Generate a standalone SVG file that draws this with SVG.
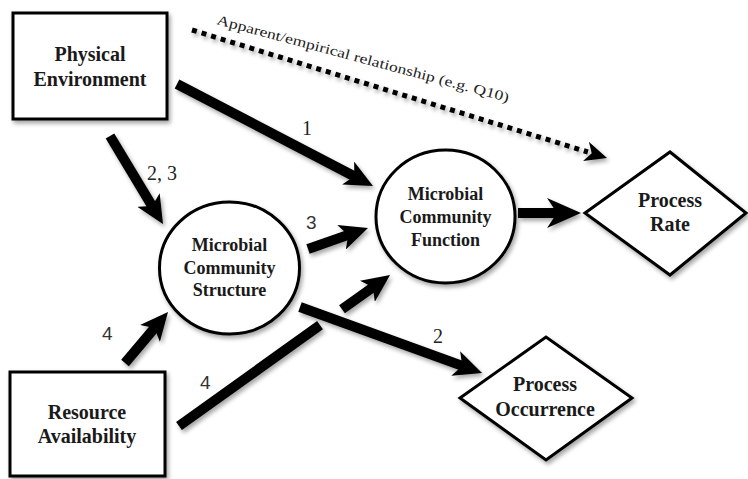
<svg xmlns="http://www.w3.org/2000/svg" width="748" height="479" viewBox="0 0 748 479">
<style>
.node{fill:#fff;stroke:#000;stroke-width:3}
.ttl{font-weight:bold;fill:#1a1a1a;text-anchor:middle}
.lbl{fill:#222;font-size:20px}
.lbs{fill:#333;font-size:19px}
.arr{stroke:#000;stroke-width:10;fill:none}
</style>
<defs>
<filter id="sh" x="-20%" y="-20%" width="140%" height="140%">
<feDropShadow dx="2" dy="3" stdDeviation="2" flood-color="#000" flood-opacity="0.35"/>
</filter>
<marker id="ah" viewBox="0 0 28 26" refX="10" refY="13" markerWidth="28" markerHeight="26" markerUnits="userSpaceOnUse" orient="auto">
<path d="M0,0 L28,13 L0,26 L7,13 Z" fill="#000"/>
</marker>
<marker id="ahb" viewBox="0 0 34 30" refX="14" refY="15" markerWidth="34" markerHeight="30" markerUnits="userSpaceOnUse" orient="auto">
<path d="M0,0 L34,15 L0,30 L10,15 Z" fill="#000"/>
</marker>
<marker id="ahd" viewBox="0 0 22 20" refX="2" refY="10" markerWidth="22" markerHeight="20" markerUnits="userSpaceOnUse" orient="auto">
<path d="M0,0 L22,10 L0,20 L6,10 Z" fill="#000"/>
</marker>
</defs>
<rect width="748" height="479" fill="#fff"/>
<g id="connectors" filter="url(#sh)">
<line class="arr" x1="177" y1="84" x2="357" y2="177.7" marker-end="url(#ah)"/>
<line class="arr" x1="110" y1="136" x2="153.7" y2="208.6" marker-end="url(#ah)"/>
<line class="arr" x1="308" y1="249" x2="351" y2="233.9" marker-end="url(#ah)"/>
<line class="arr" x1="518" y1="213" x2="561" y2="213" stroke-width="11" marker-end="url(#ahb)"/>
<line class="arr" x1="125" y1="363" x2="156.4" y2="325.8" marker-end="url(#ah)"/>
<line class="arr" x1="179" y1="426" x2="320" y2="325.1"/>
<line class="arr" x1="342" y1="309.3" x2="375.4" y2="285.5" marker-end="url(#ah)"/>
<line class="arr" x1="300" y1="307" x2="465.1" y2="366.9" marker-end="url(#ah)"/>
<line x1="192" y1="30" x2="587.9" y2="152" stroke="#000" stroke-width="5" stroke-dasharray="5 5" marker-end="url(#ahd)"/>
</g>
<g id="physical-environment" font-family="'Liberation Serif', serif">
<rect class="node" x="13" y="13" width="154" height="106" filter="url(#sh)"/>
<text class="ttl" font-size="20" x="90" y="61">Physical</text>
<text class="ttl" font-size="20" x="90" y="86">Environment</text>
</g>
<g id="resource-availability" font-family="'Liberation Serif', serif">
<rect class="node" x="10" y="372" width="155" height="104" filter="url(#sh)"/>
<text class="ttl" font-size="20" x="87" y="419">Resource</text>
<text class="ttl" font-size="20" x="87" y="443">Availability</text>
</g>
<g id="community-structure" font-family="'Liberation Serif', serif">
<ellipse class="node" cx="229.5" cy="268" rx="70" ry="66" filter="url(#sh)"/>
<text class="ttl" font-size="18" x="229.5" y="251">Microbial</text>
<text class="ttl" font-size="18" x="229.5" y="274">Community</text>
<text class="ttl" font-size="18" x="229.5" y="296">Structure</text>
</g>
<g id="community-function" font-family="'Liberation Serif', serif">
<ellipse class="node" cx="445.5" cy="216.5" rx="69.5" ry="66.5" filter="url(#sh)"/>
<text class="ttl" font-size="18" x="445.5" y="200">Microbial</text>
<text class="ttl" font-size="18" x="445.5" y="223">Community</text>
<text class="ttl" font-size="18" x="445.5" y="246">Function</text>
</g>
<g id="process-rate" font-family="'Liberation Serif', serif">
<polygon class="node" points="585,213 670,152 746,213 670,275" filter="url(#sh)"/>
<text class="ttl" font-size="20" x="670" y="207">Process</text>
<text class="ttl" font-size="20" x="670" y="231">Rate</text>
</g>
<g id="process-occurrence" font-family="'Liberation Serif', serif">
<polygon class="node" points="460,398 546,337 632,398 546,460" filter="url(#sh)"/>
<text class="ttl" font-size="20" x="545" y="391">Process</text>
<text class="ttl" font-size="20" x="545" y="416">Occurrence</text>
</g>
<g id="labels">
<text class="lbl" font-family="'Liberation Serif', serif" x="302" y="135">1</text>
<text class="lbl" font-family="'Liberation Serif', serif" x="147" y="180">2, 3</text>
<text class="lbs" font-family="'Liberation Sans', sans-serif" x="306" y="229">3</text>
<text class="lbl" font-family="'Liberation Serif', serif" x="433" y="343">2</text>
<text class="lbs" font-family="'Liberation Sans', sans-serif" x="102" y="340">4</text>
<text class="lbs" font-family="'Liberation Sans', sans-serif" x="200" y="389">4</text>
<text font-family="'Liberation Serif', serif" font-size="14" fill="#222" transform="translate(216,24) rotate(15)" textLength="302" lengthAdjust="spacingAndGlyphs">Apparent/empirical relationship (e.g. Q10)</text>
</g>
</svg>
